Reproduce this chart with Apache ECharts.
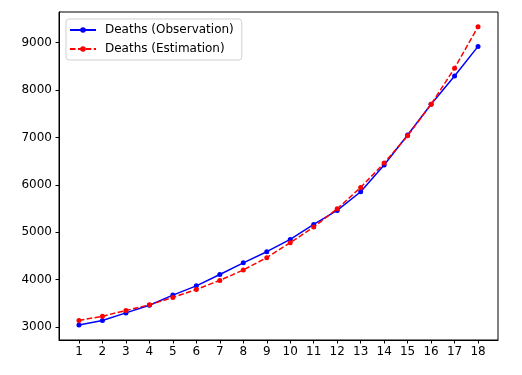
<!DOCTYPE html>
<html>
<head>
<meta charset="utf-8">
<script src="https://cdn.jsdelivr.net/npm/echarts@6/dist/echarts.min.js"></script>
<style>
  html, body { margin: 0; padding: 0; background: #fff; }
  #main { width: 522px; height: 375px; }
</style>
</head>
<body>
<div id="main"></div>
<script>
// x categories (days)
var days = [1, 2, 3, 4, 5, 6, 7, 8, 9, 10, 11, 12, 13, 14, 15, 16, 17, 18];
// observed deaths
var observed = [3045, 3140, 3300, 3460, 3675, 3870, 4110, 4355, 4590, 4850, 5165, 5460, 5855, 6420, 7050, 7700, 8295, 8920];
// estimated deaths
var estimated = [3140, 3230, 3350, 3470, 3625, 3795, 3985, 4205, 4465, 4780, 5110, 5495, 5945, 6460, 7035, 7700, 8460, 9335];
var yTicks = [3000, 4000, 5000, 6000, 7000, 8000, 9000];

var myChart = echarts.init(document.getElementById('main'));

function pairs(vals) {
    return days.map(function (d, i) { return [d, vals[i]]; });
}

var font = 'DejaVu Sans';

var option = {
    animation: false,
    grid: {
        left: 59, right: 24, top: 12, bottom: 35,
        show: true, borderColor: '#000', borderWidth: 1
    },
    legend: {
        orient: 'vertical',
        left: 66, top: 19,
        padding: [5, 8, 5, 3],
        itemWidth: 26,
        itemHeight: 7,
        itemGap: 7,
        backgroundColor: '#fff',
        borderColor: '#d0d0d0',
        borderWidth: 1,
        borderRadius: 3,
        textStyle: { fontFamily: font, fontSize: 12, color: '#000', padding: [0, 0, 0, 4] },
        data: ['Deaths (Observation)', 'Deaths (Estimation)']
    },
    xAxis: {
        type: 'value',
        min: 0.15, max: 18.85,
        splitLine: { show: false },
        axisLine: { lineStyle: { color: '#000' } },
        axisTick: { customValues: days, length: 3.5, lineStyle: { color: '#000' } },
        axisLabel: { customValues: days, margin: 6, fontFamily: font, fontSize: 12, color: '#000' }
    },
    yAxis: {
        type: 'value',
        min: 2728, max: 9645,
        splitLine: { show: false },
        axisLine: { show: true, lineStyle: { color: '#000' } },
        axisTick: { show: true, customValues: yTicks, length: 3.5, lineStyle: { color: '#000' } },
        axisLabel: {
            customValues: yTicks, margin: 7, fontFamily: font, fontSize: 12, color: '#000',
            formatter: function (v) { return String(v); }
        }
    },
    series: [{
        name: 'Deaths (Observation)',
        type: 'line',
        data: pairs(observed),
        symbol: 'circle',
        symbolSize: 5,
        color: '#0000ff',
        lineStyle: { width: 1.5, color: '#0000ff' },
        z: 2
    }, {
        name: 'Deaths (Estimation)',
        type: 'line',
        data: pairs(estimated),
        symbol: 'circle',
        symbolSize: 5,
        color: '#ff0000',
        lineStyle: { width: 1.5, color: '#ff0000', type: [5.5, 2.4] },
        z: 3
    }]
};

myChart.setOption(option);
</script>
</body>
</html>
